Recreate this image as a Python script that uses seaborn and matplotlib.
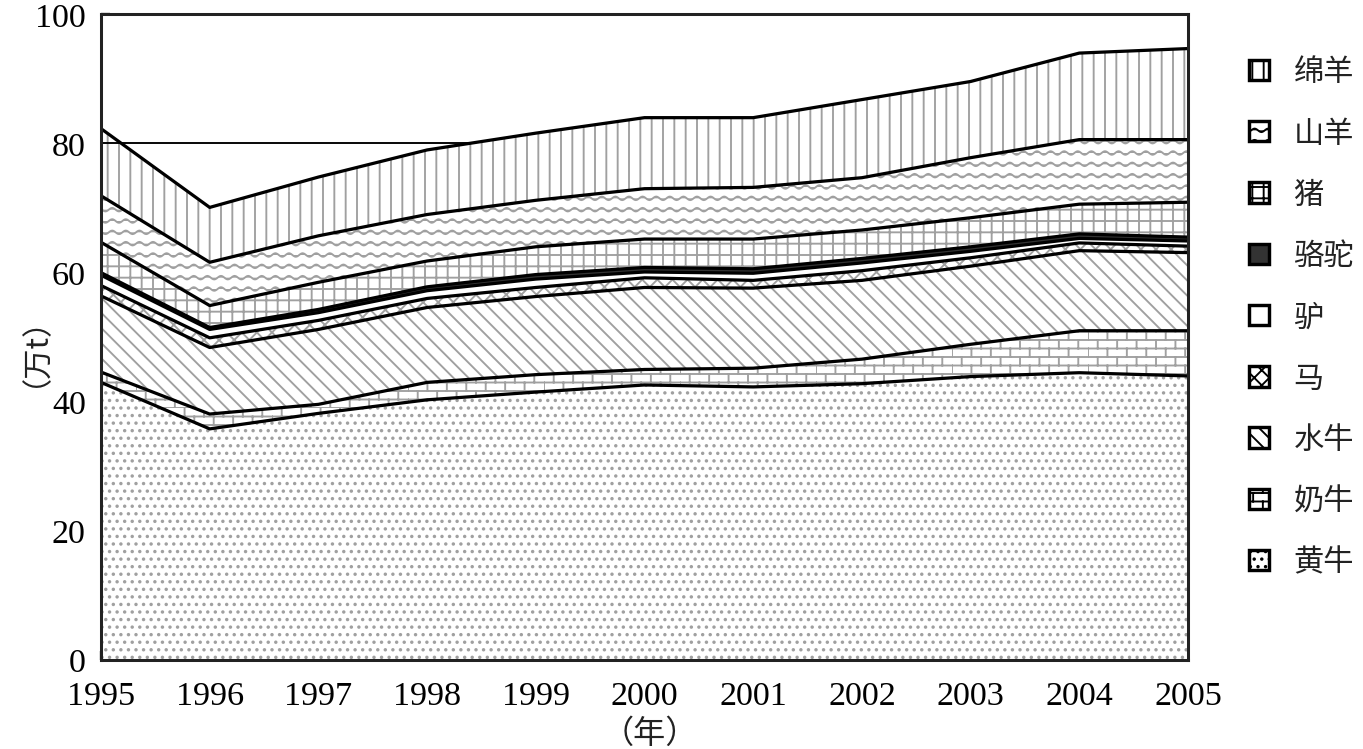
import warnings
warnings.filterwarnings("ignore")
import numpy as np
import pandas as pd
import matplotlib
matplotlib.use("Agg")
import matplotlib.pyplot as plt
import matplotlib.hatch as mhatch
from matplotlib.path import Path
from matplotlib.patches import Patch
import seaborn as sns

# ---------------- data (万t) ----------------
years = [1995, 1996, 1997, 1998, 1999, 2000, 2001, 2002, 2003, 2004, 2005]
huangniu = [43.0, 35.8, 38.2, 40.3, 41.5, 42.6, 42.3, 42.8, 43.9, 44.5, 44.0]   # 黄牛
nainiu = [1.6, 2.3, 1.4, 2.7, 2.7, 2.4, 2.9, 3.8, 5.0, 6.5, 7.0]                # 奶牛
shuiniu = [11.8, 10.3, 11.6, 11.6, 12.1, 12.7, 12.4, 12.2, 12.1, 12.4, 12.1]    # 水牛
ma = [1.6, 1.5, 1.4, 1.4, 1.4, 1.5, 1.2, 1.5, 1.3, 1.2, 1.0]                    # 马
lv = [1.6, 1.3, 1.2, 1.2, 1.3, 0.9, 1.1, 1.2, 1.0, 0.7, 0.8]                    # 驴
luotuo = [0.4, 0.3, 0.5, 0.6, 0.7, 0.7, 0.7, 0.7, 0.7, 0.7, 0.6]                # 骆驼
zhu = [4.7, 3.4, 4.2, 4.0, 4.3, 4.4, 4.6, 4.4, 4.5, 4.6, 5.4]                   # 猪
shanyang = [7.2, 6.7, 7.2, 7.2, 7.2, 7.8, 8.0, 8.1, 9.3, 10.0, 9.7]             # 山羊
mianyang = [10.4, 8.5, 9.1, 10.0, 10.4, 11.0, 10.8, 12.1, 11.8, 13.4, 14.1]     # 绵羊
series_names = ["黄牛", "奶牛", "水牛", "马", "驴", "骆驼", "猪", "山羊", "绵羊"]
series_values = [huangniu, nainiu, shuiniu, ma, lv, luotuo, zhu, shanyang, mianyang]
y_ticks = [0, 20, 40, 60, 80, 100]
ref_level = 80

# ---------------- custom hatches ----------------
class WaveHatch(mhatch.HatchPatternBase):
    def __init__(self, hatch, density):
        n = hatch.count('~')
        self.num_rows = int(n * density)
        self.nseg = 120
        self.num_vertices = self.num_rows * (self.nseg + 1) if n else 0

    def set_vertices_and_codes(self, vertices, codes):
        xs = np.linspace(0, 1, self.nseg + 1)
        ys = (np.arange(self.num_rows) + 0.5) / self.num_rows
        k = 0
        for y in ys:
            sl = slice(k, k + self.nseg + 1)
            vertices[sl, 0] = xs
            vertices[sl, 1] = y + 0.013 * np.sin(2 * np.pi * 10 * xs)
            codes[sl] = Path.LINETO
            codes[k] = Path.MOVETO
            k += self.nseg + 1


class BrickHatch(mhatch.HatchPatternBase):
    def __init__(self, hatch, density):
        n = hatch.count('b')
        self.rows = 16 if n else 0
        self.bricks = 7
        self.num_vertices = (self.rows * 2 + self.rows * self.bricks * 2) if n else 0

    def set_vertices_and_codes(self, vertices, codes):
        k = 0
        for i in range(self.rows):
            y = i / self.rows
            vertices[k] = (0.0, y); codes[k] = Path.MOVETO
            vertices[k + 1] = (1.0, y); codes[k + 1] = Path.LINETO
            k += 2
            off = 0.5 * (i % 2)
            for j in range(self.bricks):
                x = (j + off) / self.bricks
                vertices[k] = (x, y); codes[k] = Path.MOVETO
                vertices[k + 1] = (x, y + 1.0 / self.rows); codes[k + 1] = Path.LINETO
                k += 2


mhatch._hatch_types.append(WaveHatch)
mhatch._hatch_types.append(BrickHatch)
mhatch._validate_hatch_pattern = lambda h: None

# ---------------- style ----------------
sns.set_theme(style="white")
plt.rcParams["font.family"] = ["Liberation Serif", "Noto Sans CJK SC", "DejaVu Sans"]
plt.rcParams["hatch.color"] = "#a0a0a0"
plt.rcParams["hatch.linewidth"] = 1.0

hatches = ["...", "b", "\\\\\\", "xxx", "", "", "++", "~~", "||"]
faces = ["white", "white", "white", "white", "white", "#333333", "white", "white", "white"]

fig = plt.figure(figsize=(10, 5.5), dpi=136.3)
ax = fig.add_axes([101 / 1363, 1 - 661 / 750, (1188 - 101) / 1363, (661 - 15) / 750])

polys = ax.stackplot(years, *series_values, colors=faces, hatch=hatches,
                     edgecolor="#a0a0a0", linewidth=0)

# boundary lines drawn with seaborn
cum = np.cumsum(np.array(series_values), axis=0)
rows = []
for name, tops in zip(series_names, cum):
    for yr, t in zip(years, tops):
        rows.append({"year": yr, "top": t, "series": name})
df = pd.DataFrame(rows)
sns.lineplot(data=df, x="year", y="top", units="series", estimator=None,
             color="black", linewidth=1.7, ax=ax, legend=False)

# reference line at 80 up to where the total crosses it
total = cum[-1]
x_cross = np.interp(ref_level, total[1:5], years[1:5])
ax.plot([years[0], x_cross], [ref_level, ref_level], color="black", linewidth=1.0)

ax.set_xlim(years[0], years[-1])
ax.set_ylim(0, 100)
ax.set_xticks(years)
ax.set_yticks(y_ticks)
ax.tick_params(axis="both", direction="in", length=5, width=1.2, labelsize=18,
               colors="black", bottom=True, left=True, top=False, right=False)
ax.tick_params(axis="x", pad=11)
ax.tick_params(axis="y", pad=8)
for s in ax.spines.values():
    s.set_color("#222222")
    s.set_linewidth(1.6)
ax.set_xlabel("")
ax.set_ylabel("")
ax.grid(False)

fig.text(20 / 1363, 1 - 336 / 750, "（万t）", rotation=90, ha="center", va="center",
         fontsize=16, family=["Noto Sans CJK SC", "DejaVu Sans"], color="#222222")
fig.text(650 / 1363, 1 - 734 / 750, "（年）", ha="center", va="center",
         fontsize=17, family=["Noto Sans CJK SC", "DejaVu Sans"], color="#222222")

handles = [Patch(facecolor=f, edgecolor="black", hatch=h, linewidth=1.8)
           for f, h in zip(faces, hatches)]
leg = fig.legend(handles[::-1], series_names[::-1], loc="upper left",
                 bbox_to_anchor=(1222 / 1363, 1 - 30 / 750), frameon=False,
                 handlelength=0.66, handleheight=0.66, handletextpad=0.8,
                 labelspacing=1.0, prop={"family": "Noto Sans CJK SC", "size": 16})
for t in leg.get_texts():
    t.set_color("#222222")

fig.savefig("out.png", dpi=136.3, facecolor="white")
